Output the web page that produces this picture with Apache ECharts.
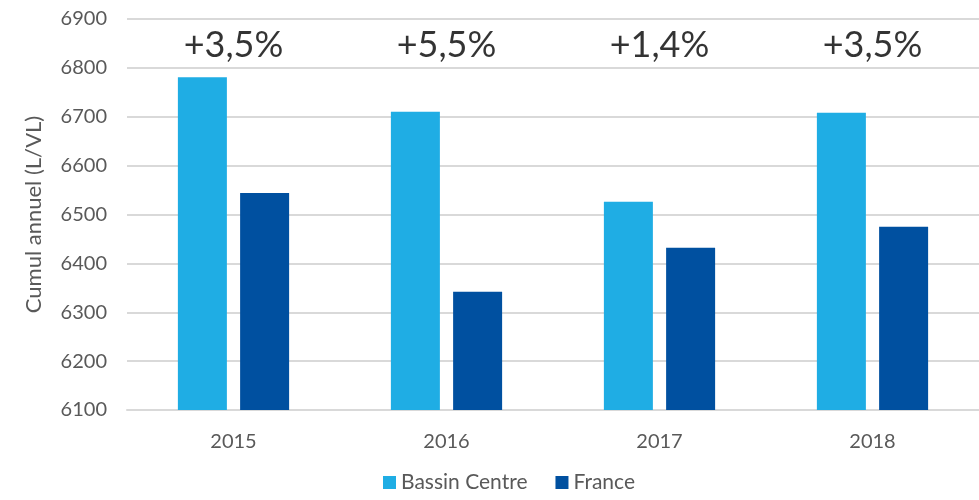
<!DOCTYPE html>
<html>
<head>
<meta charset="utf-8">
<script src="https://cdn.jsdelivr.net/npm/echarts@6/dist/echarts.min.js"></script>
<style>
  html, body { margin: 0; padding: 0; background: #fff; }
  #chart { width: 979px; height: 500px; }
</style>
</head>
<body>
<div id="chart"></div>
<script>
// data
const years = ['2015', '2016', '2017', '2018']
const bassinCentre = [6781, 6710, 6526, 6708]
const france = [6544, 6342, 6432, 6475]
const ecarts = ['+3,5%', '+5,5%', '+1,4%', '+3,5%']
const labelLevel = [6845, 6845, 6845, 6845]

const font = 'Lato'
const grey = '#595959'

const myChart = echarts.init(document.getElementById('chart'))
myChart.setOption({
  animation: false,
  textStyle: {fontFamily: font},
  grid: {left: 127, right: 0, top: 19, bottom: 90},
  legend: {
    data: ['Bassin Centre', 'France'],
    bottom: 2,
    left: 378,
    itemWidth: 13,
    itemHeight: 13,
    itemGap: 28,
    icon: 'rect',
    textStyle: {fontSize: 21, color: grey, fontFamily: font}
  },
  xAxis: {
    type: 'category',
    data: years,
    axisLine: {show: true, lineStyle: {color: '#d9d9d9', width: 2}},
    axisTick: {show: false},
    axisLabel: {fontSize: 20, color: grey, margin: 22}
  },
  yAxis: {
    type: 'value',
    min: 6100,
    max: 6900,
    interval: 100,
    name: 'Cumul annuel (L/VL)',
    nameLocation: 'middle',
    nameGap: 82,
    nameTextStyle: {fontSize: 22, color: grey},
    axisLine: {show: false},
    axisTick: {show: false},
    axisLabel: {fontSize: 20, color: grey, margin: 20, formatter: (v) => String(v)},
    splitLine: {lineStyle: {color: '#d9d9d9', width: 2}}
  },
  series: [
    {
      name: 'Bassin Centre',
      type: 'bar',
      data: bassinCentre,
      barWidth: 49,
      barGap: '27%',
      itemStyle: {color: '#1FADE4'}
    },
    {
      name: 'France',
      type: 'bar',
      data: france,
      barWidth: 49,
      itemStyle: {color: '#0050A0'}
    },
    {
      name: 'ecart',
      type: 'scatter',
      data: labelLevel,
      symbolSize: 0,
      silent: true,
      z: 10,
      label: {
        show: true,
        position: 'inside',
        fontSize: 36,
        color: '#000',
        fontFamily: font,
        formatter: (p) => ecarts[p.dataIndex]
      }
    }
  ]
})
</script>
</body>
</html>
